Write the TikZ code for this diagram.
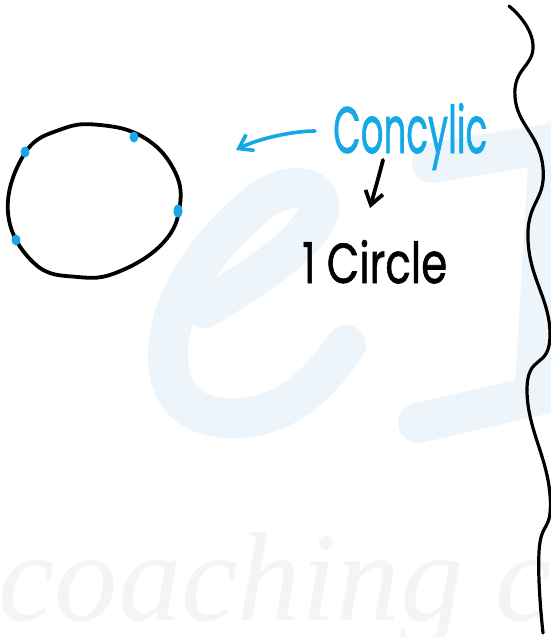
\documentclass[tikz,border=0pt]{standalone}
\usepackage{fontspec}
\usepackage{graphicx}
\usetikzlibrary{arrows.meta,shapes.geometric}
\newfontfamily\hand[FakeBold=1.2]{Poppins}
\newfontfamily\wmfont{Liberation Serif}
\definecolor{ink}{RGB}{20,168,230}
\definecolor{wmblue}{RGB}{237,245,251}
\definecolor{wmgray}{RGB}{244,244,244}
\tikzset{
  wm/.style={wmblue, line width=40pt, line cap=round, line join=round},
  pen/.style={black, line width=3.8pt, line cap=round, line join=round},
  bluepen/.style={ink, line width=3.6pt, line cap=round, line join=round},
  dotmark/.style={ellipse, fill=ink, inner sep=0pt, minimum width=9pt, minimum height=11pt},
  barb/.style={-{Straight Barb[length=13pt,width=18pt]}},
}
\begin{document}
\begin{tikzpicture}[x=1pt,y=-1pt]
\useasboundingbox (0,0) rectangle (551,637);
\clip (0,0) rectangle (551,637);
\fill[white] (0,0) rectangle (551,637);
% watermark
\draw[wm] (205,308) .. controls (250,280) and (300,250) .. (316,218)
  .. controls (330,188) and (295,178) .. (262,200)
  .. controls (205,245) and (166,305) .. (168,360)
  .. controls (170,405) and (200,420) .. (240,418)
  .. controls (290,415) and (322,380) .. (346,345);
\draw[wm] (432,163) -- (570,140);
\draw[wm] (548,165) -- (535,385);
\draw[wm] (418,423) -- (570,388);
\node[wmgray, font=\wmfont\itshape\fontsize{127}{130}\selectfont, anchor=base west, inner sep=0pt] (wmtext) at (-2,620) {coaching c};
% circle
\draw[pen] plot[smooth cycle, tension=0.7] coordinates {
  (100,125) (143,137) (173,168) (180,205)
  (163,243) (118,272) (78,277) (35,264)
  (8,213) (25,153) (62,129)};
\node[dotmark] (p1) at (25,152) {};
\node[dotmark] (p2) at (134,137) {};
\node[dotmark, minimum height=13pt] (p3) at (178,211) {};
\node[dotmark] (p4) at (16,240) {};
% texts
\node[ink, anchor=base west, inner sep=0pt] (con) at (333,153)
  {\resizebox{154pt}{50pt}{\hand Concylic}};
\node[black, anchor=base west, inner sep=0pt] (one) at (302,283)
  {\resizebox{145pt}{43pt}{\hand 1 Circle}};
% arrows
\coordinate (bA) at (315,131);
\coordinate (bB) at (236,150);
\draw[bluepen, barb] (bA) .. controls (290,131) and (255,140) .. (bB);
\coordinate (kA) at (383,160);
\coordinate (kB) at (370,208);
\draw[pen, barb] (kA) .. controls (379,176) and (374,193) .. (kB);
% wavy divider
\draw[pen, line width=3.2pt] plot[smooth, tension=0.85] coordinates {
  (509,6) (533,45) (515,97) (543,168) (528,240) (550,335)
  (527,390) (550,495) (539,552) (543,633)};
\end{tikzpicture}
\end{document}
